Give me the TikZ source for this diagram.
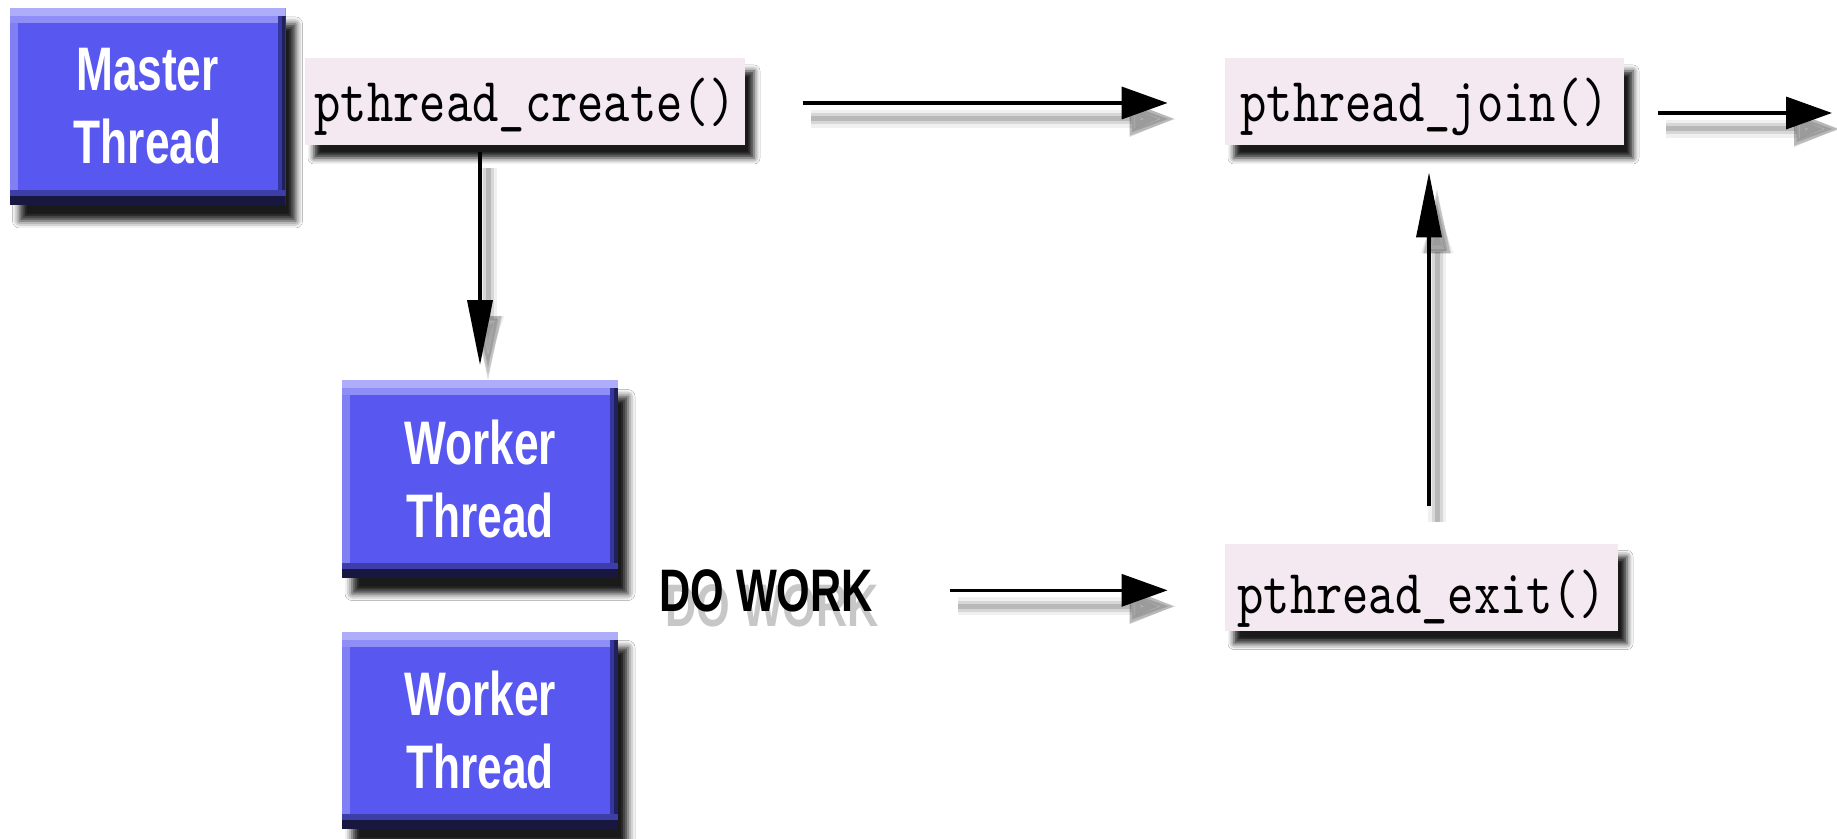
\documentclass[tikz,border=0pt]{standalone}
\usepackage{fontspec}
\usetikzlibrary{arrows.meta,calc,shadows.blur}
\newfontfamily\boxfont{Liberation Sans}[FakeStretch=0.72]
\newfontfamily\codefont{lmmono10-regular.otf}[FakeStretch=0.80]
\definecolor{boxblue}{RGB}{88,88,240}
\definecolor{bevelhi}{RGB}{173,173,249}
\definecolor{bevelmid}{RGB}{142,142,246}
\definecolor{bevelleft}{RGB}{128,128,244}
\definecolor{bevelright}{RGB}{54,54,160}
\definecolor{bevelrightdark}{RGB}{32,32,90}
\definecolor{bevelbottom}{RGB}{62,62,168}
\definecolor{bevelbottomdark}{RGB}{23,23,63}
\definecolor{codepink}{RGB}{244,233,240}
% grey shadow under a label, drawn before the black text and taking no room
\newcommand\softshadow[1]{%
  \rlap{\smash{\textcolor{black!22}{\raisebox{-7.5pt}{\hspace{3pt}#1}}}}#1}
\begin{document}
\begin{tikzpicture}[x=0.5pt,y=-0.5pt,
  bluebox/.style={minimum width=138pt, minimum height=98.5pt, inner sep=0pt,
    fill=boxblue, text=white, align=center,
    font=\boxfont\bfseries\fontsize{30.75}{36.5}\selectfont,
    blur shadow={shadow xshift=5pt, shadow yshift=-8pt, shadow blur radius=3.5pt, shadow opacity=90},
    path picture={
      \fill[bevelleft] (path picture bounding box.north west) rectangle ([xshift=4pt]path picture bounding box.south west);
      \fill[bevelhi] (path picture bounding box.north west) rectangle ([yshift=-4pt]path picture bounding box.north east);
      \fill[bevelmid] ([yshift=-4pt]path picture bounding box.north west) rectangle ([xshift=-4pt,yshift=-7.5pt]path picture bounding box.north east);
      \fill[bevelright] ([xshift=-4pt,yshift=-4pt]path picture bounding box.north east) rectangle ([xshift=-2pt]path picture bounding box.south east);
      \fill[bevelrightdark] ([xshift=-2pt,yshift=-4pt]path picture bounding box.north east) rectangle (path picture bounding box.south east);
      \fill[bevelbottom] ([yshift=7.5pt]path picture bounding box.south west) rectangle ([yshift=4.5pt]path picture bounding box.south east);
      \fill[bevelbottomdark] ([yshift=4.5pt]path picture bounding box.south west) rectangle (path picture bounding box.south east);
    }},
  codebox/.style={minimum height=43.5pt, inner sep=0pt, fill=codepink,
    text height=20.5pt, text depth=0pt,
    font=\codefont\fontsize{31.3}{36}\selectfont,
    blur shadow={shadow xshift=4.5pt, shadow yshift=-6.5pt, shadow blur radius=3pt, shadow opacity=90}},
  worklabel/.style={anchor=base west, inner sep=0pt,
    font=\boxfont\bfseries\fontsize{30}{36}\selectfont},
  arrowshadow/.style={
    preaction={draw=black, opacity=0.06, line width=9pt, transform canvas={shift={(4pt,-8pt)}}},
    preaction={draw=black, opacity=0.10, line width=5.5pt, transform canvas={shift={(4pt,-8pt)}}},
    preaction={draw=black, opacity=0.14, line width=2.5pt, transform canvas={shift={(4pt,-8pt)}}}},
  harrow/.style={arrowshadow, draw=black, line width=1.75pt, -{Triangle[length=23pt,width=16pt]}},
  varrow/.style={arrowshadow, draw=black, line width=1.75pt, -{Triangle[length=32.5pt,width=12.5pt]}}]

% canvas
\fill[white] (0,0) rectangle (1837,839);
\useasboundingbox (0,0) rectangle (1837,839);

% threads
\node[bluebox] (master) at (147.5,106.5) {Master\\Thread};
\node[bluebox] (worker1) at (480,479) {Worker\\Thread};
\node[bluebox] (worker2) at (480,730) {Worker\\Thread};

% library calls
\node[codebox, minimum width=220pt] (create) at (525,101.5) {pthread\_create()};
\node[codebox, minimum width=199.5pt] (join) at (1424.5,101.5) {pthread\_join()};
\node[codebox, minimum width=196.5pt, text height=26pt] (exit) at (1421.5,587) {pthread\_exit()};

% work label
\node[worklabel] (dowork) at (659,611) {\softshadow{DO WORK}};

% end point of the outgoing arrow
\coordinate (out) at (1832,113);

% connectors
\draw[harrow] ($(create.east)+(58,1.5)$) -- ($(join.west)+(-57,1.5)$);
\draw[harrow] ($(join.east)+(34,11.5)$) -- (out);
\draw[varrow] ($(create.south -| worker1.north)+(0,7)$) -- ($(worker1.north)+(0,-15)$);
\draw[harrow] ($(dowork.east)+(77,0)$) -- ($(exit.west |- dowork.east)+(-57,0)$);
\draw[varrow] ($(exit.north)+(7.5,-37)$) -- ($(join.south)+(4.5,27)$);
\end{tikzpicture}
\end{document}
